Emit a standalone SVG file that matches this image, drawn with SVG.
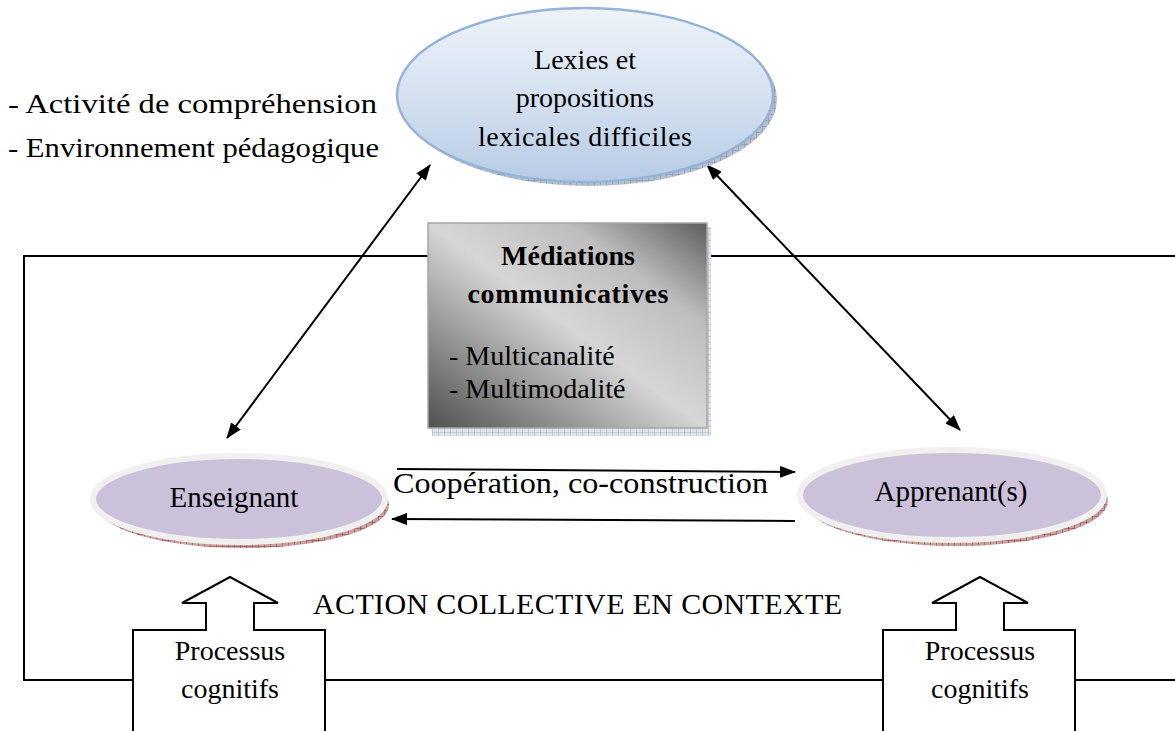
<svg xmlns="http://www.w3.org/2000/svg" width="1175" height="731" viewBox="0 0 1175 731">
  <defs>
    <style>
      .serif { font-family: "Liberation Serif", "Times New Roman", serif; fill: #000; }
      .line { fill: none; stroke: #000; stroke-width: 2; }
      .arrow { fill: none; stroke: #000; stroke-width: 2; marker-end: url(#head); }
      .dbl { fill: none; stroke: #000; stroke-width: 2; marker-start: url(#head); marker-end: url(#head); }
      .block { fill: #fff; stroke: #000; stroke-width: 2; stroke-linejoin: miter; }
      .person { fill: #ccc1da; stroke: #f0f0f0; stroke-width: 6; }
    </style>
    <marker id="head" viewBox="0 0 16 12" refX="15" refY="6" markerWidth="16" markerHeight="12" markerUnits="userSpaceOnUse" orient="auto-start-reverse">
      <path d="M0,0 L16,6 L0,12 Z" fill="#000"/>
    </marker>
    <linearGradient id="topFill" x1="0" y1="0" x2="0" y2="1">
      <stop offset="0" stop-color="#eef3f9"/>
      <stop offset="0.55" stop-color="#d2dff0"/>
      <stop offset="1" stop-color="#b6cbe4"/>
    </linearGradient>
    <linearGradient id="boxFill" x1="0" y1="1" x2="1" y2="0">
      <stop offset="0" stop-color="#505050"/>
      <stop offset="0.22" stop-color="#8a8a8a"/>
      <stop offset="0.5" stop-color="#d6d6d6"/>
      <stop offset="0.75" stop-color="#bdbdbd"/>
      <stop offset="1" stop-color="#5e5e5e"/>
    </linearGradient>
    <pattern id="hatchBlue" width="6" height="6" patternUnits="userSpaceOnUse">
      <rect width="6" height="6" fill="#b4bfcf"/>
      <path d="M0,0 H6 M0,0 V6" stroke="#7f8ea6" stroke-width="1"/>
    </pattern>
    <pattern id="hatchRed" width="6" height="6" patternUnits="userSpaceOnUse">
      <rect width="6" height="6" fill="#c9a0a0"/>
      <path d="M0,0 H6 M0,0 V6" stroke="#8b3a3a" stroke-width="1"/>
    </pattern>
    <pattern id="hatchGray" width="6" height="6" patternUnits="userSpaceOnUse">
      <rect width="6" height="6" fill="#dfe3ea"/>
      <path d="M0,0 H6 M0,0 V6" stroke="#aab4c4" stroke-width="1"/>
    </pattern>
  </defs>

  <rect width="1175" height="731" fill="#fff"/>

  <!-- context loop and all connectors -->
  <g id="connectors">
    <path class="line" d="M1176,256 H24 V680 H1176"/>
    <line class="dbl" x1="227" y1="438" x2="430" y2="165"/>
    <line class="dbl" x1="960" y1="430" x2="707" y2="165"/>
    <line class="arrow" x1="397" y1="469" x2="795" y2="472"/>
    <line class="arrow" x1="795" y1="521" x2="392" y2="519"/>
  </g>

  <!-- side notes -->
  <g id="notes">
    <text class="serif" x="8" y="113" font-size="28" textLength="369" lengthAdjust="spacingAndGlyphs">- Activité de compréhension</text>
    <text class="serif" x="8" y="157" font-size="28" textLength="371" lengthAdjust="spacingAndGlyphs">- Environnement pédagogique</text>
  </g>

  <!-- difficult lexical items -->
  <g id="lexies">
    <ellipse cx="589" cy="99" rx="188" ry="87" fill="url(#hatchBlue)"/>
    <ellipse cx="585" cy="95" rx="188" ry="87" fill="url(#topFill)" stroke="#95b3d7" stroke-width="2.5"/>
    <text class="serif" x="585" y="69" font-size="28" text-anchor="middle">Lexies et</text>
    <text class="serif" x="585" y="107" font-size="28" text-anchor="middle">propositions</text>
    <text class="serif" x="585" y="146" font-size="28" text-anchor="middle" textLength="214">lexicales difficiles</text>
  </g>

  <!-- communicative mediations -->
  <g id="mediations">
    <rect x="432" y="227" width="279" height="209" fill="url(#hatchGray)"/>
    <rect x="428" y="223" width="279" height="205" fill="url(#boxFill)" stroke="#a6a6a6" stroke-width="1.5"/>
    <text class="serif" x="568" y="265" font-size="28" font-weight="bold" text-anchor="middle">Médiations</text>
    <text class="serif" x="568" y="303" font-size="28" font-weight="bold" text-anchor="middle" textLength="201">communicatives</text>
    <text class="serif" x="449" y="365" font-size="28">- Multicanalité</text>
    <text class="serif" x="449" y="398" font-size="28">- Multimodalité</text>
  </g>

  <!-- teacher -->
  <g id="enseignant">
    <ellipse cx="243" cy="505" rx="146" ry="43" fill="url(#hatchRed)"/>
    <ellipse class="person" cx="239" cy="499" rx="146" ry="43"/>
    <text class="serif" x="234" y="507" font-size="29" text-anchor="middle">Enseignant</text>
  </g>

  <!-- learners -->
  <g id="apprenant">
    <ellipse cx="956" cy="501" rx="152" ry="45" fill="url(#hatchRed)"/>
    <ellipse class="person" cx="952" cy="495" rx="152" ry="45"/>
    <text class="serif" x="951" y="501" font-size="29" text-anchor="middle">Apprenant(s)</text>
  </g>

  <!-- cooperation label -->
  <g id="cooperation">
    <text class="serif" x="393" y="493" font-size="29" textLength="375" lengthAdjust="spacingAndGlyphs">Coopération, co-construction</text>
  </g>

  <g id="action">
    <text class="serif" x="313" y="614" font-size="30" textLength="529">ACTION COLLECTIVE EN CONTEXTE</text>
  </g>

  <!-- cognitive processes feeding each actor -->
  <g id="processus-enseignant">
    <path class="block" d="M133,740 V630 H206 V603 H182 L230,577 L278,603 H254 V630 H325 V740"/>
    <text class="serif" x="230" y="660" font-size="28" text-anchor="middle">Processus</text>
    <text class="serif" x="230" y="698" font-size="28" text-anchor="middle">cognitifs</text>
  </g>
  <g id="processus-apprenant">
    <path class="block" d="M883,740 V630 H956 V603 H932 L980,577 L1028,603 H1004 V630 H1075 V740"/>
    <text class="serif" x="980" y="660" font-size="28" text-anchor="middle">Processus</text>
    <text class="serif" x="980" y="698" font-size="28" text-anchor="middle">cognitifs</text>
  </g>
</svg>
